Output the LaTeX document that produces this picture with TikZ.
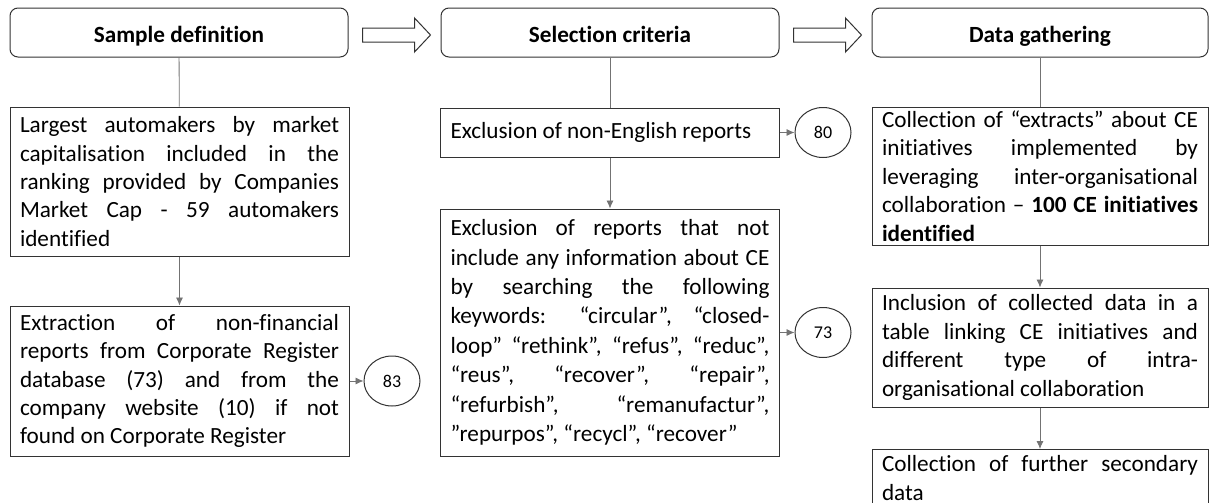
\documentclass[tikz,border=0pt]{standalone}
\usepackage{fontspec}
\setmainfont{Carlito}[Ligatures=NoCommon]
\usepackage{tikz}
\usetikzlibrary{shapes.geometric, arrows.meta, calc}

% hollow block arrow between two stage headers
\newcommand{\stagearrow}[2]{%
  \draw[blk] ($(#1.east)+(14,-4.5)$) -- ($(#2.west)+(-26,-4.5)$)
    -- ($(#2.west)+(-26,-14.5)$) -- ($(#2.west)+(-10,2.5)$)
    -- ($(#2.west)+(-26,19.5)$) -- ($(#2.west)+(-26,9.5)$)
    -- ($(#1.east)+(14,9.5)$) -- cycle;}

\begin{document}
\begin{tikzpicture}[
  x=0.5pt, y=-0.5pt,
  font=\fontsize{11.6}{14.2}\selectfont,
  stage/.style={rectangle, draw=black!80, line width=0.5pt, rounded corners=4pt,
                font=\fontsize{11.6}{14.2}\selectfont\bfseries,
                text height=10pt, text depth=0.5pt,
                minimum width=169pt, minimum height=24.5pt, inner sep=0pt},
  box/.style={rectangle, draw=black!80, line width=0.5pt, text width=159.5pt,
              inner xsep=5pt, inner ysep=1pt, align=justify,
              execute at begin node={\sloppy\hyphenpenalty=10000}},
  cnt/.style={ellipse, draw=black!80, line width=0.5pt, minimum width=28pt,
              minimum height=25pt, inner sep=0pt, font=\fontsize{9}{11}\selectfont},
  line/.style={draw=black!55, line width=0.4pt},
  arr/.style={line, -{Latex[length=4pt,width=3.5pt]}},
  blk/.style={draw=black!80, line width=0.5pt, fill=white}
]
\clip (0,0) rectangle (1210,503);

% Stage headers
\node[stage] (sample) at (179,32.5) {Sample definition};
\node[stage] (select) at (610,32.5) {Selection criteria};
\node[stage, minimum width=168pt] (gather) at (1040,32.5) {Data gathering};

\stagearrow{sample}{select}
\stagearrow{select}{gather}

% Sample definition
\node[box, minimum height=74.5pt] (largest) at (179.5,181.5) {
  Largest automakers by market\linebreak
  capitalisation included in the\linebreak
  ranking provided by Companies\linebreak
  Market Cap - 59 automakers\linebreak
  identified};
\node[box, minimum height=75pt] (extract) at (179.5,381) {
  Extraction of non-financial\linebreak
  reports from Corporate Register\linebreak
  database (73) and from the\linebreak
  company website (10) if not\linebreak
  found on Corporate Register};
\node[cnt] (n83) at (392,381) {83};

% Selection criteria
\node[box, minimum height=24.5pt] (english) at (610,132.5) {
  Exclusion of non-English reports};
\node[cnt] (n80) at (823,132.5) {80};
\node[box, minimum height=123.5pt, execute at begin node={\sloppy\hyphenpenalty=10000\baselineskip=14.7pt}] (keywords) at (610,332.5) {
  Exclusion of reports that not\linebreak
  include any information about CE\linebreak
  by searching the following\linebreak
  keywords: “circular”, “closed-\linebreak
  loop” “rethink”, “refus”, “reduc”,\linebreak
  “reus”, “recover”, “repair”,\linebreak
  “refurbish”, “remanufactur”,\linebreak
  ”repurpos”, “recycl”, “recover”};
\node[cnt] (n73) at (823,332.5) {73};

% Data gathering
\node[box, text width=158pt, minimum height=69pt] (extracts) at (1040,176) {
  Collection of “extracts” about CE\linebreak
  initiatives implemented by\linebreak
  leveraging inter-organisational\linebreak
  collaboration – \textbf{100 CE initiatives}\linebreak
  \textbf{identified}};
\node[box, text width=158pt, minimum height=59.5pt] (table) at (1040,347.5) {
  Inclusion of collected data in a\linebreak
  table linking CE initiatives and\linebreak
  different type of intra-\linebreak
  organisational collaboration};
\node[box, text width=158pt, inner ysep=3pt, anchor=north] (further) at (1040,449) {
  Collection of further secondary\linebreak
  data};

% Connectors
\draw[line] (sample) -- (largest);
\draw[arr] (largest) -- (extract);
\draw[arr] (extract.east) -- (n83.west);
\draw[line] (select) -- (english);
\draw[arr] (english) -- (keywords);
\draw[arr] (english.east) -- (n80.west);
\draw[arr] (keywords.east) -- (n73.west);
\draw[line] (gather) -- (extracts);
\draw[arr] (extracts) -- (table);
\draw[arr] (table) -- (further);

\end{tikzpicture}
\end{document}
